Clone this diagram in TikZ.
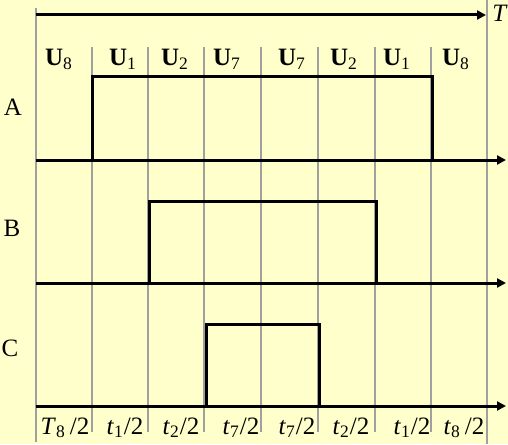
\documentclass[tikz,border=0pt]{standalone}
\usepackage{fontspec}
\setmainfont{Liberation Serif}
\usetikzlibrary{arrows.meta}
\definecolor{paper}{HTML}{FFFFCC}
\definecolor{gridgray}{HTML}{A0A0A0}
\newcommand{\Ulab}[1]{\textbf{U}\textsubscript{#1}}
\newcommand{\half}[2]{\textit{#1}\textsubscript{#2}/2}

\begin{document}
\begin{tikzpicture}[
  x=0.5pt, y=-0.5pt,
  every node/.style={font=\fontsize{12.5}{14}\selectfont, inner sep=0pt},
  grid/.style={draw=gridgray, line width=0.9pt},
  sig/.style={line width=1.5pt},
  axis/.style={line width=1.5pt, -{Triangle[length=4.5pt,width=4.5pt]}}
]
  \useasboundingbox[fill=paper] (0,0) rectangle (508,444);

  % Grid lines
  \draw[grid] (36,8) -- (36,442);
  \draw[grid] (487,0) -- (487,444);
  \foreach \gx in {92,148,204,261,318,375,431}
    \draw[grid] (\gx,47) -- (\gx,432);

  % Time axis
  \coordinate (ts0) at (36,15);
  \coordinate (ts1) at (486,15);
  \draw[axis] (ts0) -- (ts1);
  \node[anchor=base west] (ts) at (492,22) {\textit{T}\textsubscript{s}};

  % Vector labels
  \foreach \ux/\un [count=\i] in {59/8,123/1,175/2,227/7,292/7,344/2,397/1,456/8}
    \node[anchor=base] (u\i) at (\ux,66) {\Ulab{\un}};

  % Signal A
  \node (la) at (13,107) {A};
  \coordinate (A0) at (36,160);
  \coordinate (A1) at (506,160);
  \draw[axis] (A0) -- (A1);
  \draw[sig] (92,160) |- (432,77) -- (432,160);

  % Signal B
  \node (lb) at (12,228) {B};
  \coordinate (B0) at (36,283);
  \coordinate (B1) at (506,283);
  \draw[axis] (B0) -- (B1);
  \draw[sig] (149,283) |- (376,201) -- (376,283);

  % Signal C
  \node (lc) at (10,348) {C};
  \coordinate (C0) at (36,406);
  \coordinate (C1) at (506,406);
  \draw[axis] (C0) -- (C1);
  \draw[sig] (206,406) |- (319,324) -- (319,406);

  % Time slices
  \node[anchor=base] (h1) at (65,434) {\textit{T}\textsubscript{8}\,/2};
  \node[anchor=base] (h2) at (125,434) {\half{t}{1}};
  \node[anchor=base] (h3) at (181,434) {\half{t}{2}};
  \node[anchor=base] (h4) at (241,434) {\half{t}{7}};
  \node[anchor=base] (h5) at (297,434) {\half{t}{7}};
  \node[anchor=base] (h6) at (351,434) {\half{t}{2}};
  \node[anchor=base] (h7) at (412,434) {\half{t}{1}};
  \node[anchor=base] (h8) at (464,434) {\textit{t}\textsubscript{8}\,/2};
\end{tikzpicture}
\end{document}
